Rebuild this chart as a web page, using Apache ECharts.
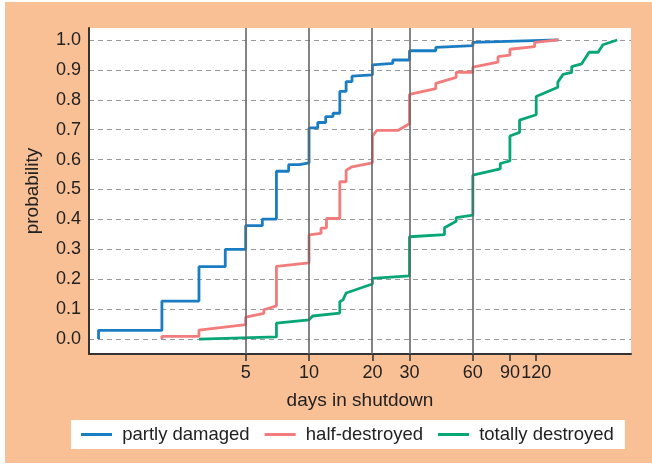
<!DOCTYPE html>
<html>
<head>
<meta charset="utf-8">
<script src="https://cdn.jsdelivr.net/npm/echarts@6/dist/echarts.min.js"></script>
<style>
html,body{margin:0;padding:0;background:#fff;}
#bg{position:absolute;left:5px;top:2px;width:647px;height:461px;background:#F9BF95;}
#chart{position:absolute;left:0;top:0;width:652px;height:465px;}
</style>
</head>
<body>
<div id="bg"></div>
<div id="chart"></div>
<script>
// ---- data (days in shutdown, cumulative probability) ----
const seriesNames = ['partly damaged', 'half-destroyed', 'totally destroyed'];

const partlyDays = [1,1,2,2,3,3,4,4,5,5,6,6,7,7,8,8,9,9,10,10,11,11,12,12,13,13,14,14,15,15,16,16,20,20,25,25,30,30,40,40,60,60,153];
const partlyProb = [0,0.029,0.029,0.127,0.127,0.242,0.242,0.300,0.300,0.379,0.379,0.401,0.401,0.561,0.561,0.583,0.583,0.589,0.589,0.706,0.706,0.724,0.724,0.744,0.744,0.755,0.755,0.828,0.828,0.861,0.861,0.879,0.883,0.917,0.922,0.933,0.933,0.964,0.964,0.975,0.981,0.992,1.0];

const halfDays = [2,2,3,3,5,5,6.1,6.1,7,7,10,10,11.4,11.4,12.1,12.1,14,14,15,15,16,20,20,21,26.5,30,30,40,40,50,50,60,60,79,79,90,90,118,118,153];
const halfProb = [0,0.009,0.009,0.030,0.048,0.073,0.086,0.098,0.111,0.243,0.255,0.348,0.353,0.371,0.371,0.403,0.403,0.526,0.526,0.564,0.576,0.589,0.678,0.698,0.698,0.720,0.818,0.837,0.855,0.875,0.892,0.892,0.909,0.926,0.944,0.949,0.969,0.978,0.992,1.0];

const totalDays = [3,7,7,10,10.4,14,14,14.5,15,20,20,30,30,44,44,50,50,60,60,81,81,90,90,100,100,120,120,152,152,161,177,177,197,214,236,249,291];
const totalProb = [0,0.007,0.053,0.064,0.077,0.087,0.125,0.131,0.154,0.184,0.203,0.211,0.342,0.349,0.372,0.394,0.406,0.414,0.548,0.569,0.587,0.596,0.679,0.691,0.732,0.750,0.811,0.842,0.859,0.885,0.892,0.911,0.920,0.959,0.959,0.984,1.0];

const xTickDays = [5,10,20,30,60,90,120];
const xLineDays = [5,10,20,30,60];
const yTicks = [0,0.1,0.2,0.3,0.4,0.5,0.6,0.7,0.8,0.9,1.0];
const xRangeDays = [0.901, 338.4];
const yRange = [-0.05, 1.04];

// ---- build ----
const lg = v => Math.log10(v);
const pts = (d, p) => d.map((v, i) => [lg(v), p[i]]);
const colors = ['#1A7DC3', '#F27B7C', '#07A676'];
const font = '"Liberation Sans", Arial, Helvetica, sans-serif';

const chart = echarts.init(document.getElementById('chart'), null, {renderer: 'canvas'});
const lineSeries = (name, data, color) => ({
  name, type: 'line', data, showSymbol: false, symbol: 'none', z: 3,
  lineStyle: {color, width: 2.8}, itemStyle: {color}, animation: false
});

chart.setOption({
  backgroundColor: 'transparent',
  animation: false,
  grid: {left: 89, right: 21, top: 28, bottom: 111, show: true, backgroundColor: '#fff', borderWidth: 0},
  xAxis: {
    type: 'value', min: lg(xRangeDays[0]), max: lg(xRangeDays[1]),
    name: 'days in shutdown', nameLocation: 'middle', nameGap: 37,
    nameTextStyle: {fontSize: 19, color: '#222', fontFamily: font},
    axisLine: {show: true, onZero: false, lineStyle: {color: '#333', width: 2}},
    axisTick: {show: true, inside: false, length: 7, customValues: xTickDays.map(lg), lineStyle: {color: '#333', width: 1.5}},
    axisLabel: {show: true, customValues: xTickDays.map(lg), margin: 10, fontSize: 18, color: '#222', fontFamily: font,
      formatter: v => String(Math.round(Math.pow(10, v)))},
    splitLine: {show: false}
  },
  yAxis: {
    type: 'value', min: yRange[0], max: yRange[1],
    name: 'probability', nameLocation: 'middle', nameGap: 47, nameRotate: 90,
    nameTextStyle: {fontSize: 19, color: '#222', fontFamily: font},
    axisLine: {show: true, onZero: false, lineStyle: {color: '#333', width: 2}},
    axisTick: {show: false, customValues: yTicks},
    axisLabel: {show: true, customValues: yTicks, margin: 8, fontSize: 18, color: '#222', fontFamily: font,
      formatter: v => v.toFixed(1)},
    splitLine: {show: true, lineStyle: {color: '#999', type: [5, 4], width: 1}}
  },
  legend: {
    data: seriesNames, left: 71, top: 420, orient: 'horizontal',
    backgroundColor: '#fff', padding: [5, 11, 5, 10], itemGap: 15,
    itemWidth: 31, itemHeight: 3, icon: 'rect',
    formatter: n => ' ' + n,
    textStyle: {fontSize: 18.5, color: '#222', fontFamily: font}
  },
  series: [
    {
      type: 'line', data: [], z: 1, silent: true,
      markLine: {
        silent: true, symbol: 'none', animation: false,
        label: {show: false},
        lineStyle: {color: '#666', type: 'solid', width: 1.6},
        data: xLineDays.map(d => ({xAxis: lg(d)}))
      }
    },
    lineSeries(seriesNames[0], pts(partlyDays, partlyProb), colors[0]),
    lineSeries(seriesNames[1], pts(halfDays, halfProb), colors[1]),
    lineSeries(seriesNames[2], pts(totalDays, totalProb), colors[2])
  ]
});
</script>
</body>
</html>
